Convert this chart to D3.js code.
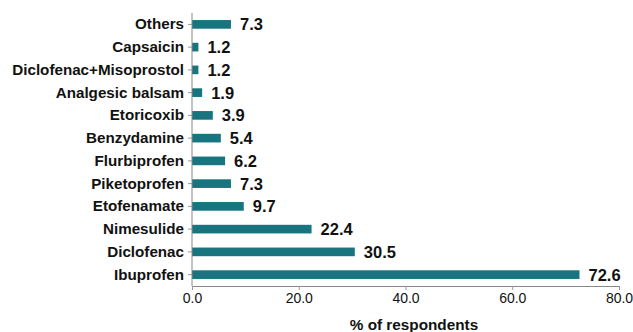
<!DOCTYPE html>
<html><head><meta charset="utf-8">
<script src="https://cdn.jsdelivr.net/npm/d3@7"></script>
<style>body{margin:0;background:#fff;} svg{display:block;}</style>
</head><body>
<svg id="chart" width="633" height="332"></svg>
<script>
const categories = ["Others","Capsaicin","Diclofenac+Misoprostol","Analgesic balsam","Etoricoxib","Benzydamine","Flurbiprofen","Piketoprofen","Etofenamate","Nimesulide","Diclofenac","Ibuprofen"];
const values = [7.3,1.2,1.2,1.9,3.9,5.4,6.2,7.3,9.7,22.4,30.5,72.6];
const xTicks = [0,20,40,60,80];
const xTitle = "% of respondents";

const svg = d3.select("#chart");
const font = "Arial, 'Liberation Sans', sans-serif";
const m = {left:192, right:14, top:13, bottom:46};
const W = 633, H = 332;
const x = d3.scaleLinear().domain([0,80]).range([m.left, W - m.right]);
const y = d3.scaleBand().domain(categories).range([m.top, H - m.bottom]).paddingInner(0.62).paddingOuter(0.31);

// bars
svg.append("g").selectAll("rect").data(categories).join("rect")
  .attr("x", x(0)).attr("y", d => y(d))
  .attr("width", (d,i) => x(values[i]) - x(0))
  .attr("height", y.bandwidth())
  .attr("fill", "#18747e");

// y axis
const ya = svg.append("g").attr("transform", `translate(${x(0)},0)`)
  .call(d3.axisLeft(y).tickSize(4).tickSizeOuter(0).tickPadding(4));
ya.select(".domain").remove();
ya.selectAll("line").attr("stroke", "#999");
ya.selectAll("text").attr("font-family", font).attr("font-size", 15.2).attr("font-weight", "bold").attr("fill", "#111");
svg.append("line").attr("x1", x(0)).attr("x2", x(0)).attr("y1", m.top).attr("y2", H - m.bottom)
  .attr("stroke", "#888").attr("stroke-width", 1);

// x axis
const xa = svg.append("g").attr("transform", `translate(0,${H - m.bottom})`)
  .call(d3.axisBottom(x).tickValues(xTicks).tickFormat(d3.format(".1f")).tickSize(4).tickSizeOuter(0).tickPadding(3));
xa.select(".domain").attr("stroke", "#888");
xa.selectAll("line").attr("stroke", "#999");
xa.selectAll("text").attr("font-family", font).attr("font-size", 14).attr("fill", "#111");

// value labels
svg.append("g").selectAll("text").data(categories).join("text")
  .attr("x", (d,i) => x(values[i]) + 9)
  .attr("y", d => y(d) + y.bandwidth()/2)
  .attr("dy", "0.36em")
  .attr("font-family", font).attr("font-size", 16.5).attr("font-weight", "bold").attr("fill", "#111")
  .text((d,i) => d3.format(".1f")(values[i]));

// x title
svg.append("text").attr("x", 414).attr("y", 330)
  .attr("text-anchor", "middle")
  .attr("font-family", font).attr("font-size", 15.3).attr("font-weight", "bold").attr("fill", "#111")
  .text(xTitle);
</script>
</body></html>
